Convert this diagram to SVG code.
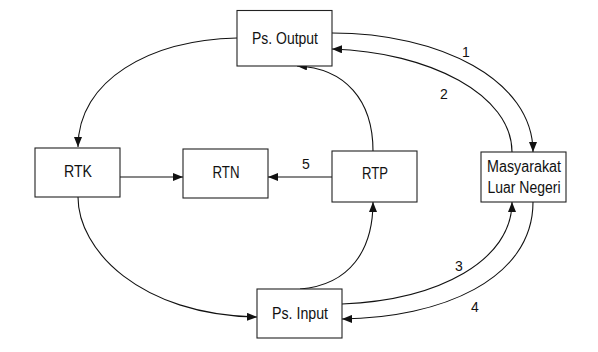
<svg xmlns="http://www.w3.org/2000/svg" width="598" height="352" viewBox="0 0 598 352">
<style>
.box{fill:#fff;stroke:#222;stroke-width:1.1}
.t{font-family:"Liberation Sans",Arial,sans-serif;font-size:16px;fill:#111;text-anchor:middle}
.n{font-family:"Liberation Sans",Arial,sans-serif;font-size:14px;fill:#111;text-anchor:middle}
.c{fill:none;stroke:#111;stroke-width:1.1;marker-end:url(#ah)}
.p{fill:none;stroke:#111;stroke-width:1.1}
</style>
<defs>
<marker id="ah" viewBox="0 0 10 8" refX="10" refY="4" markerWidth="10" markerHeight="8" markerUnits="userSpaceOnUse" orient="auto">
<path d="M0,0 L10,4 L0,8 Z" fill="#111"/>
</marker>
</defs>
<rect width="598" height="352" fill="#fff"/>
<g id="connectors">
<path class="c" d="M237,38 C150,40 78,80 78,147"/>
<path class="c" d="M78,197 C78,250 140,315 257,317"/>
<path class="c" d="M120,177 L183,177"/>
<path class="c" d="M332,177 L268,177"/>
<path class="c" d="M373,151 C373,100 345,68 297,66"/>
<path class="c" d="M300,289 C350,285 373,250 373,202"/>
<path class="c" d="M332,33 C440,33 533,80 533,152"/>
<path class="c" d="M512,152 C512,95 430,52 332,49"/>
<path class="c" d="M342,304 C440,300 512,260 512,202"/>
<path class="c" d="M533,202 C533,280 440,318 342,319"/>
<text class="n" x="466" y="57">1</text>
<text class="n" x="444" y="99">2</text>
<text class="n" x="459" y="271">3</text>
<text class="n" x="475" y="312">4</text>
<text class="n" x="306" y="169">5</text>
</g>
<g id="ps-output">
<rect class="box" x="237" y="10.5" width="95" height="55.5"/>
<text class="t" x="285" y="44" textLength="66" lengthAdjust="spacingAndGlyphs">Ps. Output</text>
</g>
<g id="rtk">
<rect class="box" x="35" y="148" width="85" height="49"/>
<text class="t" x="78" y="177" textLength="28" lengthAdjust="spacingAndGlyphs">RTK</text>
</g>
<g id="rtn">
<rect class="box" x="183" y="149" width="85" height="49"/>
<text class="t" x="226" y="178" textLength="27" lengthAdjust="spacingAndGlyphs">RTN</text>
</g>
<g id="rtp">
<rect class="box" x="332" y="151" width="85" height="51"/>
<text class="t" x="375" y="179" textLength="26" lengthAdjust="spacingAndGlyphs">RTP</text>
</g>
<g id="masyarakat">
<rect class="box" x="481" y="152" width="85" height="50"/>
<text class="t" x="524" y="172" textLength="74" lengthAdjust="spacingAndGlyphs">Masyarakat</text>
<text class="t" x="524" y="193" textLength="73" lengthAdjust="spacingAndGlyphs">Luar Negeri</text>
</g>
<g id="ps-input">
<rect class="box" x="257" y="289" width="85" height="49"/>
<text class="t" x="300" y="319" textLength="56" lengthAdjust="spacingAndGlyphs">Ps. Input</text>
</g>
</svg>
